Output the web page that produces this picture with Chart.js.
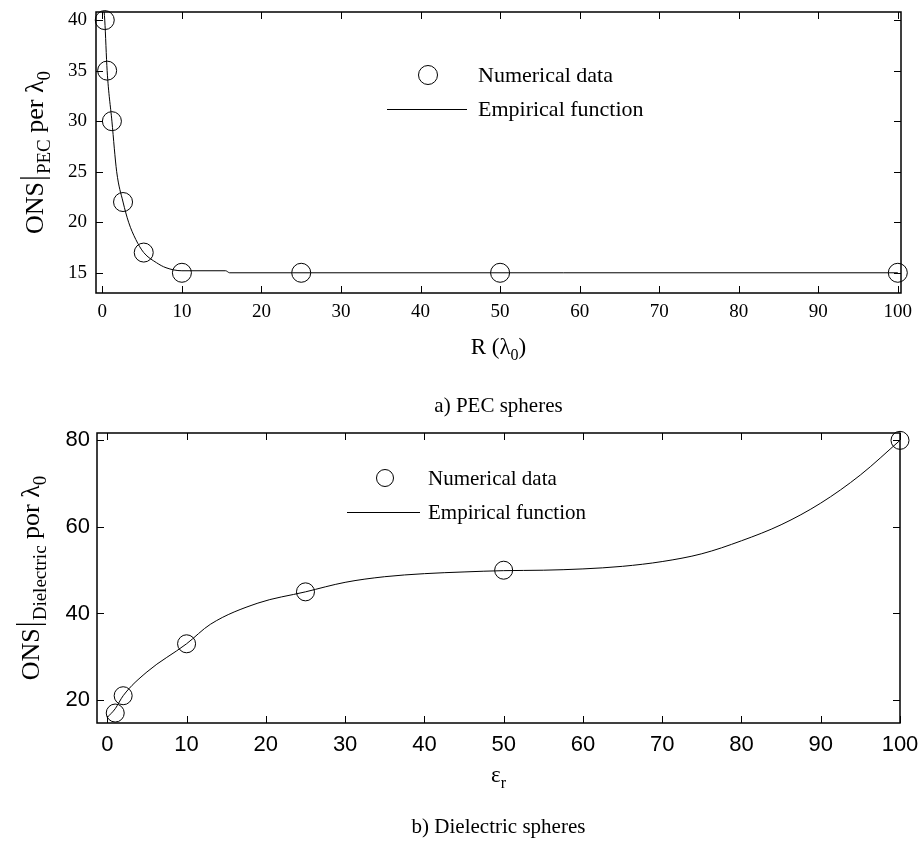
<!DOCTYPE html>
<html>
<head>
<meta charset="utf-8">
<script src="https://cdn.jsdelivr.net/npm/chart.js@4.4.1/dist/chart.umd.min.js"></script>
<style>
  html, body { margin: 0; padding: 0; background: #fff; }
  body { width: 922px; height: 850px; position: relative; overflow: hidden; }
  .box { position: absolute; left: 0; width: 922px; }
  #boxA { top: 0; height: 420px; }
  #boxB { top: 420px; height: 430px; }
</style>
</head>
<body>
<div class="box" id="boxA"><canvas id="chartA"></canvas></div>
<div class="box" id="boxB"><canvas id="chartB"></canvas></div>
<script>
// a) PEC spheres
const pecRadius = [0.3, 0.6, 1.2, 2.6, 5.2, 10, 25, 50, 100];
const pecOns = [40, 35, 30, 22, 17, 15, 15, 15, 15];
const pecFitR = [0.15, 0.3, 0.6, 1.2, 1.8, 2.6, 3.3, 4.2, 5.2, 6.8, 8, 10, 15.5, 16, 100];
const pecFitOns = [41.5, 40, 35, 30, 25, 22, 20, 18.3, 17, 16, 15.5, 15.2, 15.2, 15, 15];
const pecTicksX = [0, 10, 20, 30, 40, 50, 60, 70, 80, 90, 100];
const pecTicksY = [15, 20, 25, 30, 35, 40];

// b) Dielectric spheres
const epsR = [1, 2, 10, 25, 50, 100];
const dielOns = [17, 21, 33, 45, 50, 80];
const dielFitEps = [0, 1, 2, 5, 10, 13, 19, 25, 30, 35, 40, 45, 50, 55, 60, 65, 70, 75, 80, 85, 90, 95, 100];
const dielFitOns = [16, 18, 21, 26.5, 33, 37.5, 42.4, 45, 47.2, 48.5, 49.2, 49.6, 49.9, 50, 50.3, 50.9, 52, 53.8, 56.8, 60.5, 65.5, 72, 80];
const dielTicksX = [0, 10, 20, 30, 40, 50, 60, 70, 80, 90, 100];
const dielTicksY = [20, 40, 60, 80];

const SERIF = '"Liberation Serif", "Times New Roman", serif';
const SANS = '"Liberation Sans", Arial, sans-serif';

function toPoints(xs, ys) {
  return xs.map((x, i) => ({ x: x, y: ys[i] }));
}

function richWidth(ctx, segs) {
  let w = 0;
  for (const s of segs) {
    if (s.bar) { w += s.gap * 2; continue; }
    ctx.font = s.size + 'px ' + SERIF;
    w += ctx.measureText(s.text).width;
  }
  return w;
}

function drawRich(ctx, segs, cx, base) {
  let x = cx - richWidth(ctx, segs) / 2;
  ctx.textAlign = 'left';
  ctx.textBaseline = 'alphabetic';
  for (const s of segs) {
    if (s.bar) {
      ctx.beginPath();
      ctx.moveTo(x + s.gap, base - s.up);
      ctx.lineTo(x + s.gap, base + s.down);
      ctx.lineWidth = 1.3;
      ctx.stroke();
      x += s.gap * 2;
      continue;
    }
    ctx.font = s.size + 'px ' + SERIF;
    ctx.fillText(s.text, x, base + (s.dy || 0));
    x += ctx.measureText(s.text).width;
  }
}

// box, inward ticks, axis titles, legend and caption (config kept in a closure)
function decorPlugin(opts) {
  return {
    id: 'figureDecor',
    afterDraw(chart) {
      const ctx = chart.ctx;
      const a = chart.chartArea;
      const xs = chart.scales.x, ys = chart.scales.y;
      ctx.save();
      ctx.strokeStyle = '#000';
      ctx.fillStyle = '#000';

      ctx.lineWidth = 1;
      const tl = 7;
      ctx.beginPath();
      xs.ticks.forEach(t => {
        const p = Math.round(xs.getPixelForValue(t.value)) + 0.5;
        ctx.moveTo(p, a.bottom); ctx.lineTo(p, a.bottom - tl);
        ctx.moveTo(p, a.top); ctx.lineTo(p, a.top + tl);
      });
      ys.ticks.forEach(t => {
        const p = Math.round(ys.getPixelForValue(t.value)) + 0.5;
        ctx.moveTo(a.left, p); ctx.lineTo(a.left + tl, p);
        ctx.moveTo(a.right, p); ctx.lineTo(a.right - tl, p);
      });
      ctx.stroke();

      ctx.lineWidth = 1.5;
      ctx.strokeRect(a.left, a.top, a.right - a.left, a.bottom - a.top);

      const cx = (a.left + a.right) / 2;
      const cy = (a.top + a.bottom) / 2;

      drawRich(ctx, opts.xTitle, cx, opts.xTitleBase);

      ctx.save();
      ctx.translate(opts.yTitleBase, cy);
      ctx.rotate(-Math.PI / 2);
      drawRich(ctx, opts.yTitle, 0, 0);
      ctx.restore();

      ctx.font = opts.captionSize + 'px ' + SERIF;
      ctx.textAlign = 'center';
      ctx.textBaseline = 'alphabetic';
      ctx.fillText(opts.caption, cx, opts.captionBase);

      // legend
      const lg = opts.legend;
      const ds = chart.data.datasets;
      ctx.lineWidth = 1;
      ctx.beginPath();
      ctx.arc(lg.markX, lg.row1, lg.r, 0, Math.PI * 2);
      ctx.stroke();
      ctx.beginPath();
      ctx.moveTo(lg.lineX0, lg.row2 + 0.5);
      ctx.lineTo(lg.lineX1, lg.row2 + 0.5);
      ctx.stroke();
      ctx.font = lg.size + 'px ' + SERIF;
      ctx.textAlign = 'left';
      ctx.textBaseline = 'middle';
      ctx.fillText(ds[0].label, lg.textX, lg.row1 + 1);
      ctx.fillText(ds[1].label, lg.textX, lg.row2 + 1);

      ctx.restore();
    }
  };
}

function makeChart(id, cfg) {
  return new Chart(document.getElementById(id), {
    type: 'scatter',
    data: {
      datasets: [
        {
          label: 'Numerical data',
          data: toPoints(cfg.px, cfg.py),
          showLine: false,
          pointStyle: 'circle',
          pointRadius: cfg.r,
          pointBorderWidth: 1,
          pointBorderColor: '#000',
          pointBackgroundColor: 'rgba(0,0,0,0)',
          clip: false
        },
        {
          label: 'Empirical function',
          data: toPoints(cfg.fx, cfg.fy),
          showLine: true,
          borderColor: '#000',
          borderWidth: 1,
          pointRadius: 0,
          cubicInterpolationMode: 'monotone',
          fill: false
        }
      ]
    },
    options: {
      responsive: true,
      maintainAspectRatio: false,
      animation: false,
      events: [],
      layout: { padding: { top: cfg.padTop, right: cfg.padRight, left: 0, bottom: 0 } },
      scales: {
        x: {
          type: 'linear',
          min: cfg.xMin, max: cfg.xMax,
          afterBuildTicks: s => { s.ticks = cfg.xTicks.map(v => ({ value: v })); },
          afterFit: s => { s.height = cfg.xAxisH; s.paddingLeft = 0; s.paddingRight = 0; },
          grid: { display: true, drawOnChartArea: false, drawTicks: false },
          border: { display: false },
          ticks: { color: '#000', font: { family: cfg.tickFont, size: cfg.tickSize }, padding: cfg.xPad, maxRotation: 0, autoSkip: false }
        },
        y: {
          type: 'linear',
          min: cfg.yMin, max: cfg.yMax,
          afterBuildTicks: s => { s.ticks = cfg.yTicks.map(v => ({ value: v })); },
          afterFit: s => { s.width = cfg.yAxisW; s.paddingTop = 0; s.paddingBottom = 0; },
          grid: { display: true, drawOnChartArea: false, drawTicks: false },
          border: { display: false },
          ticks: { color: '#000', font: { family: cfg.tickFont, size: cfg.tickSize }, padding: cfg.yPad, autoSkip: false }
        }
      },
      plugins: {
        legend: { display: false },
        tooltip: { enabled: false }
      }
    },
    plugins: [decorPlugin(cfg.decor)]
  });
}

makeChart('chartA', {
  px: pecRadius, py: pecOns, fx: pecFitR, fy: pecFitOns, r: 9.5,
  xMin: -0.8, xMax: 100.4, yMin: 13, yMax: 40.8,
  xTicks: pecTicksX, yTicks: pecTicksY,
  padTop: 12, padRight: 21, xAxisH: 127, yAxisW: 96,
  tickFont: SERIF, tickSize: 19, xPad: 8, yPad: 9,
  decor: {
    xTitle: [{ text: 'R (λ', size: 23 }, { text: '0', size: 16, dy: 6 }, { text: ')', size: 23 }],
    xTitleBase: 354,
    yTitle: [{ text: 'ONS', size: 26 }, { bar: true, gap: 4, up: 23, down: 7 }, { text: 'PEC', size: 19, dy: 7 },
             { text: ' per ', size: 26 }, { text: 'λ', size: 26 }, { text: '0', size: 19, dy: 7 }],
    yTitleBase: 43,
    caption: 'a) PEC spheres', captionSize: 21, captionBase: 412,
    legend: { markX: 428, row1: 75, r: 9.5, lineX0: 387, lineX1: 467, row2: 109, textX: 478, size: 22 }
  }
});

makeChart('chartB', {
  px: epsR, py: dielOns, fx: dielFitEps, fy: dielFitOns, r: 9,
  xMin: -1.3, xMax: 100, yMin: 14.7, yMax: 81.7,
  xTicks: dielTicksX, yTicks: dielTicksY,
  padTop: 13, padRight: 22, xAxisH: 127, yAxisW: 97,
  tickFont: SANS, tickSize: 22, xPad: 9, yPad: 7,
  decor: {
    xTitle: [{ text: 'ε', size: 23 }, { text: 'r', size: 16, dy: 6 }],
    xTitleBase: 362,
    yTitle: [{ text: 'ONS', size: 26 }, { bar: true, gap: 4, up: 23, down: 7 }, { text: 'Dielectric', size: 19, dy: 7 },
             { text: ' por ', size: 26 }, { text: 'λ', size: 26 }, { text: '0', size: 19, dy: 7 }],
    yTitleBase: 39,
    caption: 'b) Dielectric spheres', captionSize: 21, captionBase: 413,
    legend: { markX: 385, row1: 58, r: 8.5, lineX0: 347, lineX1: 420, row2: 92, textX: 428, size: 21 }
  }
});
</script>
</body>
</html>
